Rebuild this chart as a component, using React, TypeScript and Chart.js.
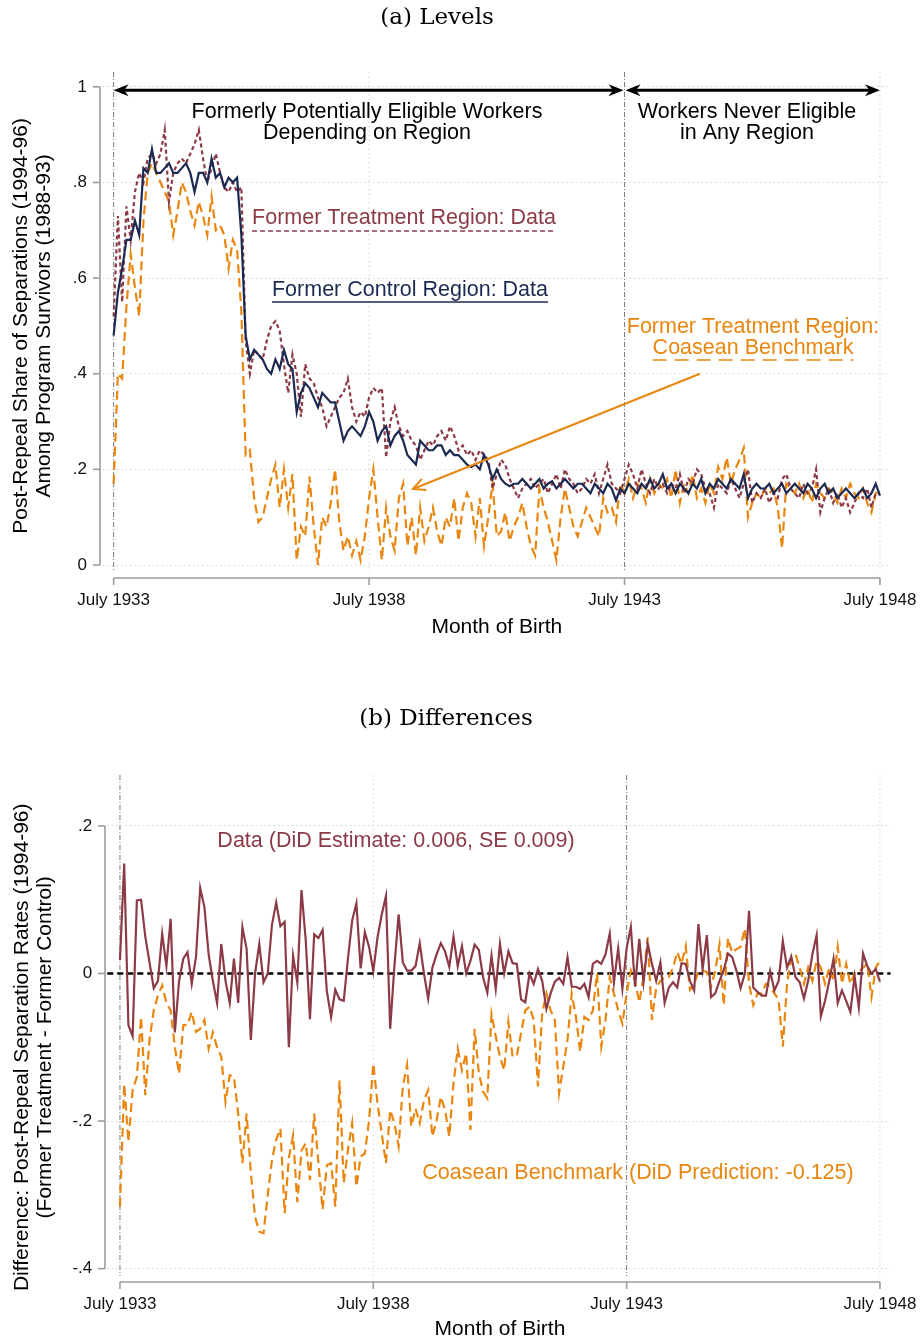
import React, { useEffect, useRef } from 'react';
import { Chart, registerables } from 'chart.js';

Chart.register(...registerables);

// ---------- data ----------
const monthTicks = [0, 60, 120, 180];
const monthTickLabels = ['July 1933', 'July 1938', 'July 1943', 'July 1948'];
const levelTicks = [0, 0.2, 0.4, 0.6, 0.8, 1];
const levelTickLabels = ['0', '.2', '.4', '.6', '.8', '1'];
const diffTicks = [-0.4, -0.2, 0, 0.2];
const diffTickLabels = ['-.4', '-.2', '0', '.2'];

// Panel (a): levels, one value per month of birth, July 1933 .. July 1948
const controlLevels = [
  0.48, 0.57, 0.62, 0.68, 0.68, 0.72, 0.69, 0.83, 0.82, 0.87,
  0.82, 0.82, 0.83, 0.84, 0.82, 0.82, 0.83, 0.84, 0.82, 0.78,
  0.82, 0.82, 0.80, 0.85, 0.81, 0.82, 0.79, 0.81, 0.80, 0.81,
  0.69, 0.48, 0.43, 0.45, 0.44, 0.43, 0.41, 0.40, 0.43, 0.41,
  0.45, 0.42, 0.41, 0.32, 0.36, 0.38, 0.37, 0.35, 0.33, 0.36,
  0.35, 0.34, 0.34, 0.30, 0.26, 0.28, 0.29, 0.28, 0.27, 0.29,
  0.32, 0.30, 0.26, 0.28, 0.29, 0.25, 0.27, 0.28, 0.26, 0.23,
  0.22, 0.21, 0.26, 0.25, 0.24, 0.24, 0.25, 0.25, 0.23, 0.24,
  0.23, 0.23, 0.22, 0.21, 0.205, 0.21, 0.20, 0.23, 0.21, 0.18,
  0.20, 0.18, 0.17, 0.165, 0.17, 0.17, 0.18, 0.17, 0.16, 0.17,
  0.18, 0.16, 0.17, 0.175, 0.16, 0.17, 0.18, 0.17, 0.16, 0.17,
  0.17, 0.16, 0.15, 0.17, 0.16, 0.15, 0.17, 0.16, 0.135, 0.16,
  0.15, 0.17, 0.16, 0.15, 0.17, 0.16, 0.18, 0.16, 0.17, 0.19,
  0.16, 0.17, 0.15, 0.17, 0.16, 0.15, 0.17, 0.16, 0.18, 0.15,
  0.17, 0.16, 0.18, 0.17, 0.16, 0.18, 0.17, 0.16, 0.19, 0.14,
  0.16, 0.17, 0.16, 0.16, 0.17, 0.15, 0.16, 0.17, 0.15, 0.16,
  0.17, 0.16, 0.15, 0.17, 0.16, 0.14, 0.16, 0.17, 0.15, 0.16,
  0.14, 0.15, 0.16, 0.15, 0.14, 0.15, 0.16, 0.14, 0.15, 0.17,
  0.145,
];

const treatmentLevels = [
  0.52, 0.73, 0.55, 0.75, 0.68, 0.78, 0.82, 0.80, 0.85, 0.86,
  0.84, 0.86, 0.91, 0.76, 0.82, 0.84, 0.85, 0.84, 0.86, 0.88,
  0.91, 0.85, 0.80, 0.83, 0.86, 0.82, 0.79, 0.78, 0.80, 0.78,
  0.79, 0.47, 0.40, 0.45, 0.44, 0.43, 0.47, 0.50, 0.51, 0.49,
  0.42, 0.36, 0.44, 0.40, 0.31, 0.42, 0.39, 0.38, 0.35, 0.33,
  0.29, 0.31, 0.33, 0.35, 0.36, 0.39, 0.33, 0.30, 0.32, 0.31,
  0.35, 0.37, 0.36, 0.37, 0.225, 0.30, 0.33, 0.29, 0.27, 0.28,
  0.26, 0.25, 0.22, 0.24, 0.26, 0.25, 0.27, 0.28, 0.26, 0.29,
  0.27, 0.24, 0.25, 0.23, 0.24, 0.22, 0.24, 0.23, 0.22, 0.16,
  0.19, 0.22, 0.21, 0.18, 0.16, 0.14, 0.16, 0.17, 0.18, 0.16,
  0.17, 0.18, 0.15, 0.17, 0.19, 0.16, 0.20, 0.18, 0.17, 0.15,
  0.16, 0.18, 0.17, 0.19, 0.15, 0.18, 0.21, 0.17, 0.16, 0.15,
  0.18, 0.21, 0.19, 0.16, 0.20, 0.17, 0.15, 0.18, 0.16, 0.17,
  0.15, 0.17, 0.16, 0.19, 0.15, 0.18, 0.17, 0.20, 0.19, 0.16,
  0.15, 0.12, 0.17, 0.16, 0.15, 0.18, 0.16, 0.14, 0.17, 0.20,
  0.13, 0.15, 0.14, 0.16, 0.13, 0.15, 0.14, 0.18, 0.19, 0.16,
  0.15, 0.14, 0.17, 0.15, 0.16, 0.20, 0.11, 0.14, 0.16, 0.13,
  0.15, 0.12, 0.14, 0.11, 0.13, 0.15, 0.14, 0.16, 0.12, 0.15,
  0.15,
];

const coaseanLevels = [
  0.17, 0.40, 0.39, 0.54, 0.65, 0.58, 0.52, 0.72, 0.82, 0.84,
  0.82, 0.80, 0.78, 0.76, 0.69, 0.74, 0.80, 0.78, 0.74, 0.71,
  0.76, 0.73, 0.69, 0.77, 0.70, 0.71, 0.69, 0.62, 0.68, 0.66,
  0.53, 0.23, 0.24, 0.14, 0.09, 0.10, 0.14, 0.18, 0.21, 0.12,
  0.20, 0.12, 0.19, 0.01, 0.08, 0.06, 0.185, 0.08, 0.00, 0.10,
  0.08, 0.13, 0.20, 0.09, 0.03, 0.06, 0.02, 0.05, 0.01, 0.06,
  0.14, 0.20, 0.10, 0.01, 0.12, 0.06, 0.03, 0.14, 0.17, 0.04,
  0.10, 0.02, 0.12, 0.05, 0.08, 0.12, 0.07, 0.04, 0.10, 0.08,
  0.14, 0.05, 0.12, 0.15, 0.13, 0.06, 0.14, 0.04, 0.10, 0.17,
  0.06, 0.07, 0.11, 0.05, 0.08, 0.10, 0.13, 0.08, 0.04, 0.02,
  0.16, 0.12, 0.09, 0.05, 0.01, 0.10, 0.16, 0.12, 0.08, 0.06,
  0.09, 0.12, 0.10, 0.08, 0.06, 0.14, 0.11, 0.12, 0.09, 0.17,
  0.15, 0.18, 0.14, 0.17, 0.16, 0.13, 0.18, 0.15, 0.17, 0.16,
  0.18, 0.14, 0.20, 0.13, 0.17, 0.15, 0.19, 0.14, 0.16, 0.13,
  0.17, 0.15, 0.205, 0.18, 0.225, 0.17, 0.20, 0.22, 0.245, 0.10,
  0.13, 0.15, 0.14, 0.16, 0.15, 0.16, 0.12, 0.035, 0.17, 0.16,
  0.15, 0.17, 0.14, 0.16, 0.13, 0.17, 0.15, 0.14, 0.16, 0.15,
  0.13, 0.16, 0.14, 0.17, 0.15, 0.14, 0.16, 0.13, 0.11, 0.15,
  0.16,
];

// Panel (b): differences (former treatment - former control)
const dataDiff = [
  0.018, 0.149, -0.07, -0.085, 0.099, 0.10, 0.05, 0.015, -0.02, -0.01,
  0.054, 0.01, 0.074, -0.08, -0.01, 0.02, 0.029, -0.014, 0.022, 0.116,
  0.09, 0.026, -0.01, -0.04, 0.04, -0.01, -0.04, 0.02, -0.04, 0.063,
  0.033, -0.09, 0.0, 0.04, -0.012, 0.0, 0.066, 0.096, 0.064, 0.07,
  -0.1, 0.024, -0.012, 0.113, 0.045, -0.062, 0.053, 0.048, 0.059, -0.024,
  -0.059, -0.022, -0.035, -0.037, 0.02, 0.072, 0.095, 0.007, 0.056, 0.036,
  0.003, 0.049, 0.08, 0.105, -0.075, 0.01, 0.08, 0.015, 0.004, 0.004,
  0.01, 0.041, 0.0, -0.034, 0.008, 0.026, 0.041, 0.03, 0.009, 0.05,
  0.01, 0.037, 0.0, 0.017, 0.039, 0.032, -0.005, -0.026, 0.024, -0.021,
  0.04, 0.0, 0.03, 0.014, 0.013, -0.035, -0.039, 0.0, -0.014, 0.006,
  -0.01, -0.048, -0.027, -0.011, -0.006, -0.014, 0.022, -0.018, -0.018, -0.021,
  -0.014, -0.032, 0.013, 0.017, 0.013, 0.026, 0.054, -0.012, 0.034, -0.021,
  0.034, 0.063, -0.018, 0.047, -0.012, 0.04, 0.013, -0.01, 0.015, -0.04,
  -0.019, -0.012, -0.019, 0.014, 0.013, -0.01, -0.023, 0.067, 0.006, 0.052,
  -0.032, -0.027, -0.01, 0.004, 0.027, 0.022, 0.004, -0.02, 0.0, 0.085,
  -0.019, -0.025, -0.03, -0.03, 0.003, -0.023, -0.01, 0.044, 0.008, 0.023,
  -0.005, -0.012, -0.034, -0.01, 0.026, 0.052, -0.058, -0.037, -0.01, 0.02,
  -0.04, -0.023, -0.037, -0.052, -0.004, -0.046, 0.027, 0.01, 0.0, 0.006,
  -0.011,
];

const coaseanDiff = [
  -0.316, -0.15, -0.228, -0.158, -0.14, -0.059, -0.165, -0.09, -0.05, -0.03,
  -0.016, -0.04, -0.05, -0.10, -0.136, -0.07, -0.07, -0.052, -0.079, -0.075,
  -0.063, -0.102, -0.08, -0.10, -0.113, -0.174, -0.138, -0.14, -0.19, -0.257,
  -0.19, -0.27, -0.33, -0.35, -0.352, -0.30, -0.253, -0.225, -0.21, -0.325,
  -0.25, -0.22, -0.31, -0.24, -0.23, -0.28, -0.19, -0.257, -0.32, -0.26,
  -0.257, -0.316, -0.145, -0.284, -0.239, -0.203, -0.289, -0.248, -0.244, -0.199,
  -0.122, -0.176, -0.217, -0.257, -0.185, -0.203, -0.234, -0.153, -0.124, -0.207,
  -0.183, -0.203, -0.172, -0.158, -0.221, -0.199, -0.167, -0.185, -0.221, -0.149,
  -0.102, -0.131, -0.108, -0.212, -0.075, -0.135, -0.16, -0.169, -0.055, -0.085,
  -0.113, -0.131, -0.066, -0.113, -0.111, -0.081, -0.05, -0.045, -0.063, -0.153,
  -0.054, -0.027, -0.05, -0.063, -0.162, -0.126, -0.09, -0.027, -0.059, -0.106,
  -0.059, -0.063, -0.05, 0.0, -0.099, -0.063, -0.005, -0.027, -0.05, -0.068,
  -0.027, 0.004, -0.01, -0.039, -0.005, 0.049, -0.063, -0.019, -0.01, -0.005,
  -0.005, 0.008, 0.029, 0.013, 0.037, -0.022, -0.016, 0.004, 0.004, 0.002,
  -0.018, 0.004, 0.039, -0.043, 0.048, 0.028, 0.033, 0.036, 0.061, -0.014,
  -0.043, -0.027, -0.027, -0.014, -0.018, -0.027, -0.036, -0.099, -0.014, 0.022,
  0.026, 0.008, -0.014, 0.008, -0.01, 0.017, 0.008, -0.014, 0.008, -0.01,
  0.036, -0.014, 0.013, -0.014, 0.0, 0.002, 0.008, 0.013, -0.032, 0.008,
  0.017,
];

// ---------- styles ----------
const SANS = "'Liberation Sans', Arial, Helvetica, sans-serif";
const SERIF = "'DejaVu Serif', 'Liberation Serif', serif";
const NAVY = '#1c2a52';
const MAROON = '#8c3a46';
const ORANGE = '#e8860f';
const AXIS_GRAY = '#9c9c9c';
const GRID_GRAY = '#d2d2d2';

type Ctx = CanvasRenderingContext2D;

function line(ctx: Ctx, x1: number, y1: number, x2: number, y2: number, color: string, width: number, dash: number[] = []) {
  ctx.save();
  ctx.strokeStyle = color;
  ctx.lineWidth = width;
  ctx.setLineDash(dash);
  ctx.beginPath();
  ctx.moveTo(x1, y1);
  ctx.lineTo(x2, y2);
  ctx.stroke();
  ctx.restore();
}

function text(ctx: Ctx, s: string, x: number, y: number, font: string, color: string, align: CanvasTextAlign = 'center') {
  ctx.save();
  ctx.font = font;
  ctx.fillStyle = color;
  ctx.textAlign = align;
  ctx.textBaseline = 'middle';
  ctx.fillText(s, x, y);
  ctx.restore();
}

function underlinedText(ctx: Ctx, s: string, x: number, y: number, font: string, color: string, dash: number[], gap: number) {
  text(ctx, s, x, y, font, color);
  ctx.save();
  ctx.font = font;
  const w = ctx.measureText(s).width;
  ctx.restore();
  line(ctx, x - w / 2, y + gap, x + w / 2, y + gap, color, 1.6, dash);
}

function filledHead(ctx: Ctx, fx: number, fy: number, tx: number, ty: number, len: number, half: number, color: string) {
  const a = Math.atan2(ty - fy, tx - fx);
  const c = Math.cos(a), s = Math.sin(a);
  ctx.save();
  ctx.fillStyle = color;
  ctx.beginPath();
  ctx.moveTo(tx, ty);
  ctx.lineTo(tx - len * c + half * s, ty - len * s - half * c);
  ctx.lineTo(tx - len * 0.7 * c, ty - len * 0.7 * s);
  ctx.lineTo(tx - len * c - half * s, ty - len * s + half * c);
  ctx.closePath();
  ctx.fill();
  ctx.restore();
}

function openHead(ctx: Ctx, fx: number, fy: number, tx: number, ty: number, len: number, half: number, color: string, width: number) {
  const a = Math.atan2(ty - fy, tx - fx);
  const c = Math.cos(a), s = Math.sin(a);
  ctx.save();
  ctx.strokeStyle = color;
  ctx.lineWidth = width;
  ctx.beginPath();
  ctx.moveTo(tx - len * c + half * s, ty - len * s - half * c);
  ctx.lineTo(tx, ty);
  ctx.lineTo(tx - len * c - half * s, ty - len * s + half * c);
  ctx.stroke();
  ctx.restore();
}

interface PanelSpec {
  title: string;
  titleX: number;
  titleY: number;
  yTitle: string[];
  yTitleX: number[];
  xTitle: string;
  xTitleY: number;
  yTicks: number[];
  axisGapLeft: number;
  zeroLine: boolean;
}

function stataPlugin(spec: PanelSpec) {
  return {
    id: 'stataFrame',
    beforeDatasetsDraw(chart: any) {
      const { ctx, chartArea } = chart;
      const xs = chart.scales.x;
      const ys = chart.scales.y;
      [60, 180].forEach((m) => {
        const px = xs.getPixelForValue(m);
        line(ctx, px, chartArea.top, px, chartArea.bottom, GRID_GRAY, 1, [1.5, 3]);
      });
      [0, 120].forEach((m) => {
        const px = xs.getPixelForValue(m);
        line(ctx, px, chartArea.top, px, chartArea.bottom, '#7a7a7a', 1, [5, 2, 1, 2]);
      });
      if (spec.zeroLine) {
        const py = ys.getPixelForValue(0);
        line(ctx, chartArea.left, py, chartArea.right, py, '#000', 2.6, [6, 4]);
      }
    },
    afterDraw(chart: any) {
      const { ctx, chartArea } = chart;
      const xs = chart.scales.x;
      const ys = chart.scales.y;
      const ax = chartArea.left - spec.axisGapLeft;
      const ay = chartArea.bottom + 6;
      const yTop = ys.getPixelForValue(spec.yTicks[spec.yTicks.length - 1]);
      const yBot = ys.getPixelForValue(spec.yTicks[0]);
      line(ctx, ax, yTop, ax, yBot, AXIS_GRAY, 1.6);
      spec.yTicks.forEach((v) => {
        const py = ys.getPixelForValue(v);
        line(ctx, ax - 7, py, ax, py, AXIS_GRAY, 1.6);
      });
      const xL = xs.getPixelForValue(monthTicks[0]);
      const xR = xs.getPixelForValue(monthTicks[monthTicks.length - 1]);
      line(ctx, xL, ay, xR, ay, AXIS_GRAY, 1.6);
      monthTicks.forEach((m) => {
        const px = xs.getPixelForValue(m);
        line(ctx, px, ay, px, ay + 7, AXIS_GRAY, 1.6);
      });
      text(ctx, spec.title, spec.titleX, spec.titleY, `23px ${SERIF}`, '#000');
      text(ctx, spec.xTitle, (xL + xR) / 2, spec.xTitleY, `21px ${SANS}`, '#000');
      const yMid = (yTop + yBot) / 2;
      spec.yTitle.forEach((s, i) => {
        ctx.save();
        ctx.translate(spec.yTitleX[i], yMid);
        ctx.rotate(-Math.PI / 2);
        text(ctx, s, 0, 0, `21px ${SANS}`, '#000');
        ctx.restore();
      });
    },
  };
}

const NOTE_FONT = `21.5px ${SANS}`;

const levelsAnnotations = {
  id: 'levelsNotes',
  afterDatasetsDraw(chart: any) {
    const { ctx } = chart;
    const xs = chart.scales.x;
    const ys = chart.scales.y;
    const F = NOTE_FONT;
    const ya = ys.getPixelForValue(0.993);
    const x0 = xs.getPixelForValue(0);
    const x1 = xs.getPixelForValue(120);
    const x2 = xs.getPixelForValue(180);
    [[x0, x1 - 1], [x1 + 1, x2]].forEach(([a, b]) => {
      line(ctx, a + 6, ya, b - 6, ya, '#000', 3);
      filledHead(ctx, b, ya, a, ya, 15, 6, '#000');
      filledHead(ctx, a, ya, b, ya, 15, 6, '#000');
    });
    text(ctx, 'Formerly Potentially Eligible Workers', 367, 112, F, '#000');
    text(ctx, 'Depending on Region', 367, 133, F, '#000');
    text(ctx, 'Workers Never Eligible', 747, 112, F, '#000');
    text(ctx, 'in Any Region', 747, 133, F, '#000');
    underlinedText(ctx, 'Former Treatment Region: Data', 404, 218, F, MAROON, [5, 3], 13);
    underlinedText(ctx, 'Former Control Region: Data', 410, 290, F, NAVY, [], 12);
    text(ctx, 'Former Treatment Region:', 753, 327, F, ORANGE);
    underlinedText(ctx, 'Coasean Benchmark', 753, 348, F, ORANGE, [14, 8], 12);
    const sx = xs.getPixelForValue(137.7), sy = ys.getPixelForValue(0.40);
    const tx = xs.getPixelForValue(70.3), ty = ys.getPixelForValue(0.159);
    line(ctx, sx, sy, tx, ty, ORANGE, 2);
    openHead(ctx, sx, sy, tx, ty, 12, 6, ORANGE, 2);
  },
};

const diffAnnotations = {
  id: 'diffNotes',
  afterDatasetsDraw(chart: any) {
    const { ctx } = chart;
    text(ctx, 'Data (DiD Estimate: 0.006, SE 0.009)', 396, 181, NOTE_FONT, MAROON);
    text(ctx, 'Coasean Benchmark (DiD Prediction: -0.125)', 638, 513, NOTE_FONT, ORANGE);
  },
};

interface Frame {
  xMin: number;
  xMax: number;
  yMin: number;
  yMax: number;
  padTop: number;
  padRight: number;
  yWidth: number;
  xHeight: number;
  yTicks: number[];
  yTickLabels: string[];
  yLabelPad: number;
}

function makeOptions(f: Frame): any {
  return {
    responsive: false,
    maintainAspectRatio: false,
    animation: false,
    devicePixelRatio: 1,
    layout: { padding: { top: f.padTop, right: f.padRight, left: 0, bottom: 0 } },
    plugins: { legend: { display: false }, tooltip: { enabled: false }, title: { display: false } },
    elements: { point: { radius: 0 }, line: { tension: 0 } },
    scales: {
      x: {
        type: 'linear',
        min: f.xMin,
        max: f.xMax,
        grid: { display: false },
        border: { display: false },
        afterBuildTicks: (s: any) => {
          s.ticks = monthTicks.map((v) => ({ value: v }));
        },
        afterFit: (s: any) => {
          s.height = f.xHeight;
          s.paddingLeft = 0;
          s.paddingRight = 0;
        },
        ticks: {
          autoSkip: false,
          maxRotation: 0,
          minRotation: 0,
          padding: 10,
          color: '#111',
          font: { family: SANS, size: 17 },
          callback: (_v: any, i: number) => monthTickLabels[i],
        },
      },
      y: {
        type: 'linear',
        min: f.yMin,
        max: f.yMax,
        grid: { color: GRID_GRAY, lineWidth: 1, drawTicks: false },
        border: { display: false, dash: [1.5, 3] },
        afterBuildTicks: (s: any) => {
          s.ticks = f.yTicks.map((v) => ({ value: v }));
        },
        afterFit: (s: any) => {
          s.width = f.yWidth;
          s.paddingTop = 0;
          s.paddingBottom = 0;
        },
        ticks: {
          autoSkip: false,
          padding: f.yLabelPad,
          color: '#111',
          font: { family: SANS, size: 17 },
          callback: (_v: any, i: number) => f.yTickLabels[i],
        },
      },
    },
  };
}

const pts = (arr: number[]) => arr.map((v, i) => ({ x: i, y: v }));

export default function App() {
  const refA = useRef<HTMLCanvasElement | null>(null);
  const refB = useRef<HTMLCanvasElement | null>(null);

  useEffect(() => {
    const chartA = new Chart(refA.current as HTMLCanvasElement, {
      type: 'line',
      data: {
        datasets: [
          { label: 'Former Control Region: Data', data: pts(controlLevels), borderColor: NAVY, borderWidth: 2.2, pointRadius: 0 },
          { label: 'Former Treatment Region: Data', data: pts(treatmentLevels), borderColor: MAROON, borderWidth: 2.2, borderDash: [4, 3], pointRadius: 0 },
          { label: 'Former Treatment Region: Coasean Benchmark', data: pts(coaseanLevels), borderColor: ORANGE, borderWidth: 2.2, borderDash: [9, 5], pointRadius: 0 },
        ],
      },
      options: makeOptions({
        xMin: -2.5, xMax: 182.5, yMin: -0.0146, yMax: 1.031,
        padTop: 72, padRight: 29.4, yWidth: 103, xHeight: 88,
        yTicks: levelTicks, yTickLabels: levelTickLabels, yLabelPad: 16,
      }),
      plugins: [
        stataPlugin({
          title: '(a) Levels', titleX: 437, titleY: 18,
          yTitle: ['Post-Repeal Share of Separations (1994-96)', 'Among Program Survivors (1988-93)'],
          yTitleX: [21, 44], xTitle: 'Month of Birth', xTitleY: 627,
          yTicks: levelTicks, axisGapLeft: 3, zeroLine: false,
        }),
        levelsAnnotations,
      ],
    } as any);

    const chartB = new Chart(refB.current as HTMLCanvasElement, {
      type: 'line',
      data: {
        datasets: [
          { label: 'Data (DiD Estimate: 0.006, SE 0.009)', data: pts(dataDiff), borderColor: MAROON, borderWidth: 2.2, pointRadius: 0 },
          { label: 'Coasean Benchmark (DiD Prediction: -0.125)', data: pts(coaseanDiff), borderColor: ORANGE, borderWidth: 2.2, borderDash: [9, 5], pointRadius: 0 },
        ],
      },
      options: makeOptions({
        xMin: -3, xMax: 182.5, yMin: -0.41, yMax: 0.269,
        padTop: 115, padRight: 29.5, yWidth: 107.3, xHeight: 65,
        yTicks: diffTicks, yTickLabels: diffTickLabels, yLabelPad: 15,
      }),
      plugins: [
        stataPlugin({
          title: '(b) Differences', titleX: 446, titleY: 59,
          yTitle: ['Difference: Post-Repeal Separation Rates (1994-96)', '(Former Treatment - Former Control)'],
          yTitleX: [22, 45], xTitle: 'Month of Birth', xTitleY: 669,
          yTicks: diffTicks, axisGapLeft: 2.3, zeroLine: true,
        }),
        diffAnnotations,
      ],
    } as any);

    return () => {
      chartA.destroy();
      chartB.destroy();
    };
  }, []);

  return (
    <div style={{ position: 'absolute', left: 0, top: 0, width: 920, height: 1341, background: '#fff' }}>
      <canvas ref={refA} width={920} height={660} style={{ position: 'absolute', left: 0, top: 0, width: 920, height: 660 }} />
      <canvas ref={refB} width={920} height={681} style={{ position: 'absolute', left: 0, top: 660, width: 920, height: 681 }} />
    </div>
  );
}
